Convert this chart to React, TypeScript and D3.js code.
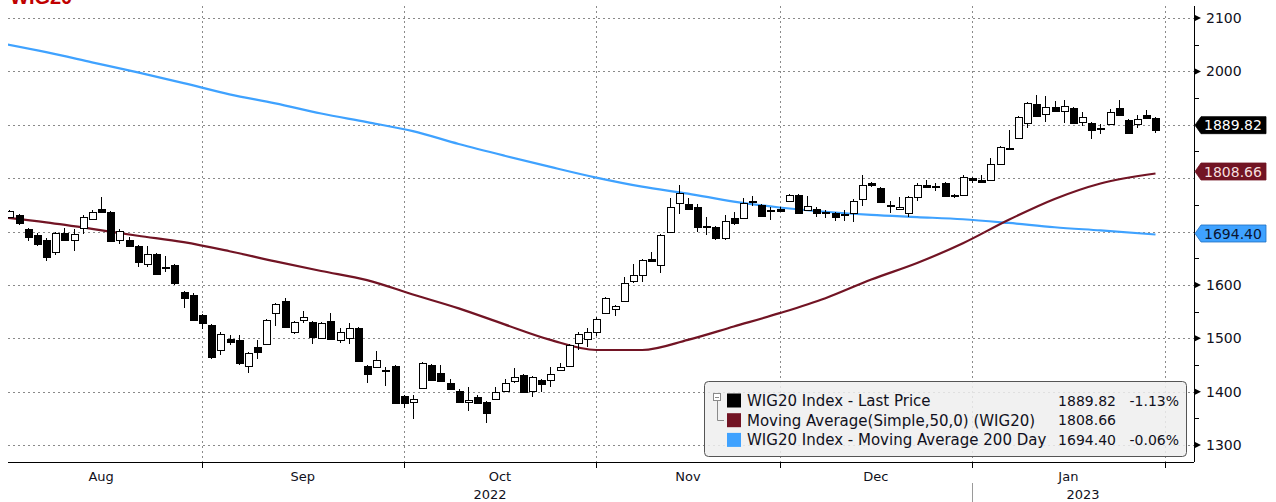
import React from "react";
import * as d3 from "d3";

const W = 1276;
const H = 502;
const PLOT_L = 8;
const PLOT_R = 1194;
const PLOT_T = 6;
const PLOT_B = 462;

// trading-day index of first visible candle (index 0 = 1 Aug 2022)
const FIRST_DAY = 1;

const OPEN = [
  1727, 1731, 1704, 1694, 1685, 1662, 1698, 1685, 1706, 1723,
  1742, 1737, 1685, 1685, 1673, 1639, 1658, 1634, 1637, 1587,
  1581, 1544, 1525, 1478, 1498, 1497, 1448, 1483, 1489, 1547,
  1570, 1512, 1535, 1530, 1500, 1533, 1497, 1500, 1520, 1448,
  1446, 1441, 1448, 1392, 1380, 1406, 1450, 1434, 1416, 1402,
  1380, 1390, 1381, 1386, 1402, 1419, 1431, 1402, 1422, 1422,
  1440, 1448, 1492, 1498, 1511, 1547, 1554, 1570, 1607, 1618,
  1648, 1637, 1700, 1753, 1751, 1746, 1711, 1709, 1687, 1725,
  1726, 1757, 1750, 1741, 1743, 1758, 1768, 1740, 1743, 1737,
  1734, 1733, 1734, 1760, 1790, 1781, 1749, 1742, 1734, 1764,
  1787, 1785, 1790, 1769, 1769, 1800, 1797, 1797, 1826, 1857,
  1875, 1904, 1939, 1921, 1934, 1926, 1931, 1906, 1904, 1893,
  1902, 1931, 1908, 1901, 1919, 1912,
];
const HIGH = [
  1741, 1733, 1706, 1698, 1687, 1700, 1707, 1705, 1730, 1740,
  1765, 1739, 1704, 1690, 1675, 1672, 1660, 1654, 1639, 1589,
  1584, 1546, 1527, 1512, 1506, 1506, 1474, 1497, 1537, 1566,
  1575, 1533, 1551, 1532, 1531, 1548, 1519, 1528, 1522, 1450,
  1477, 1446, 1450, 1394, 1394, 1455, 1452, 1450, 1423, 1404,
  1408, 1393, 1383, 1409, 1423, 1444, 1433, 1430, 1424, 1447,
  1454, 1490, 1512, 1519, 1539, 1578, 1562, 1614, 1639, 1649,
  1662, 1695, 1762, 1787, 1762, 1752, 1728, 1711, 1731, 1737,
  1762, 1767, 1752, 1745, 1745, 1770, 1770, 1767, 1745, 1740,
  1736, 1741, 1760, 1806, 1792, 1783, 1758, 1764, 1766, 1790,
  1797, 1791, 1792, 1771, 1805, 1802, 1806, 1837, 1861, 1890,
  1916, 1942, 1956, 1953, 1945, 1946, 1933, 1923, 1906, 1901,
  1930, 1946, 1910, 1919, 1928, 1914,
];
const LOW = [
  1725, 1713, 1682, 1672, 1645, 1656, 1683, 1664, 1695, 1721,
  1735, 1680, 1676, 1672, 1634, 1634, 1618, 1625, 1600, 1556,
  1532, 1517, 1462, 1468, 1487, 1450, 1435, 1462, 1487, 1523,
  1520, 1508, 1529, 1490, 1498, 1496, 1491, 1489, 1456, 1416,
  1444, 1410, 1377, 1369, 1348, 1404, 1420, 1418, 1403, 1379,
  1364, 1377, 1342, 1384, 1400, 1417, 1398, 1390, 1400, 1408,
  1438, 1446, 1478, 1484, 1505, 1545, 1542, 1568, 1604, 1606,
  1645, 1622, 1698, 1732, 1741, 1700, 1693, 1685, 1685, 1713,
  1724, 1748, 1727, 1722, 1736, 1756, 1732, 1738, 1727, 1726,
  1720, 1719, 1717, 1747, 1784, 1754, 1734, 1740, 1727, 1757,
  1781, 1776, 1765, 1762, 1767, 1791, 1791, 1795, 1824, 1852,
  1873, 1893, 1914, 1905, 1924, 1904, 1902, 1898, 1873, 1883,
  1900, 1916, 1883, 1893, 1910, 1884,
];
const CLOSE = [
  1739, 1715, 1690, 1676, 1653, 1698, 1685, 1695, 1728, 1737,
  1736, 1682, 1701, 1673, 1642, 1658, 1620, 1632, 1603, 1575,
  1534, 1528, 1464, 1508, 1493, 1454, 1472, 1475, 1535, 1564,
  1522, 1531, 1540, 1503, 1529, 1498, 1512, 1520, 1458, 1433,
  1459, 1439, 1379, 1379, 1387, 1453, 1422, 1420, 1405, 1381,
  1384, 1379, 1360, 1400, 1416, 1428, 1400, 1428, 1414, 1433,
  1447, 1487, 1508, 1512, 1537, 1575, 1560, 1603, 1618, 1647,
  1645, 1693, 1746, 1772, 1743, 1709, 1709, 1687, 1720, 1715,
  1754, 1755, 1729, 1739, 1738, 1768, 1734, 1748, 1734, 1735,
  1728, 1732, 1758, 1787, 1788, 1756, 1747, 1746, 1764, 1787,
  1783, 1784, 1767, 1768, 1803, 1797, 1793, 1826, 1858, 1855,
  1914, 1940, 1916, 1933, 1926, 1935, 1904, 1914, 1890, 1892,
  1923, 1918, 1885, 1911, 1912, 1889.82,
];

// moving averages, sampled at trading-day indices
const MA_DAYS = [0, 5, 10, 15, 20, 25, 30, 35, 40, 45, 50, 55, 60, 65, 70, 75, 80, 85, 90, 95, 100, 105, 110, 115, 120, 126];
const MA50 = [1727, 1717, 1705, 1692, 1680, 1663, 1644, 1626, 1609, 1582, 1556, 1526, 1497, 1478, 1478, 1497, 1522, 1547, 1575, 1610, 1641, 1678, 1722, 1761, 1790, 1808.66];
const MA200 = [2053, 2036, 2017, 1998, 1978, 1957, 1940, 1921, 1905, 1888, 1864, 1842, 1821, 1801, 1784, 1771, 1756, 1745, 1737, 1731, 1727, 1723, 1716, 1708, 1702, 1694.4];

const MONTHS = ["Aug", "Sep", "Oct", "Nov", "Dec", "Jan"];
const MONTH_START = [0, 22, 44, 65, 85, 106, 127];
const YEARS = ["2022", "2023"];
const YEAR_BREAK = 106;

const Y_TICKS = [1300, 1400, 1500, 1600, 1700, 1800, 1900, 2000, 2100];
const Y_MINOR = [1350, 1450, 1550, 1650, 1750, 1850, 1950, 2050];

const LEGEND_NAMES = [
  "WIG20 Index - Last Price",
  "Moving Average(Simple,50,0) (WIG20)",
  "WIG20 Index - Moving Average 200 Day",
];
const LEGEND_VALUES = ["1889.82", "1808.66", "1694.40"];
const LEGEND_CHANGES = ["-1.13%", "", "-0.06%"];
const LAST_VALUES = [1889.82, 1808.66, 1694.4];

const COL_PRICE = "#000000";
const COL_MA50 = "#721424";
const COL_MA200 = "#3fa2ff";
const SERIES_COLORS = [COL_PRICE, COL_MA50, COL_MA200];
const LABEL_TEXT = ["#ffffff", "#f6dede", "#0b1630"];
const LABEL_SHIFT = [-5, -2, -1];

const FONT = "'DejaVu Sans', Verdana, sans-serif";

export default function App() {
  const x = d3.scaleLinear().domain([0.84, 130.2]).range([PLOT_L, PLOT_R]);
  const y = d3.scaleLinear().domain([1300, 2100]).range([445, 18]);

  const candles = OPEN.map((o, i) => ({
    day: FIRST_DAY + i,
    o,
    h: HIGH[i],
    l: LOW[i],
    c: CLOSE[i],
  }));

  const maLine = d3
    .line<number>()
    .x((_, i) => x(MA_DAYS[i]))
    .y((v) => y(v))
    .curve(d3.curveMonotoneX);

  const gridColor = "#8a8a8a";
  const labelCenters = LAST_VALUES.map((v, i) => y(v) + LABEL_SHIFT[i]);
  const hiddenTick = (t: number) => labelCenters.some((c) => Math.abs(c - y(t)) < 15);

  return (
    <svg
      width={W}
      height={H}
      viewBox={`0 0 ${W} ${H}`}
      style={{ position: "absolute", left: 0, top: 0, background: "#fff" }}
      fontFamily={FONT}
    >
      <defs>
        <clipPath id="plotClip">
          <rect x={PLOT_L} y={PLOT_T} width={PLOT_R - PLOT_L} height={PLOT_B - PLOT_T} />
        </clipPath>
      </defs>
      <rect x={0} y={0} width={W} height={H} fill="#fff" />

      {/* title, cut by the top edge */}
      <text x={10} y={4} fill="#c00000" fontWeight="bold" fontSize={20} fontFamily="'Liberation Sans', Arial, sans-serif">
        WIG20
      </text>

      {/* horizontal grid */}
      {Y_TICKS.map((t) => (
        <line
          key={`hg${t}`}
          x1={PLOT_L}
          x2={PLOT_R}
          y1={Math.round(y(t)) + 0.5}
          y2={Math.round(y(t)) + 0.5}
          stroke={gridColor}
          strokeDasharray="2,3"
        />
      ))}
      {/* vertical grid at month starts */}
      {MONTH_START.slice(1).map((d) => (
        <line
          key={`vg${d}`}
          x1={Math.round(x(d)) + 0.5}
          x2={Math.round(x(d)) + 0.5}
          y1={PLOT_T}
          y2={PLOT_B}
          stroke={gridColor}
          strokeDasharray="2,3"
        />
      ))}

      <g clipPath="url(#plotClip)">
        {/* moving averages */}
        <path d={maLine(MA200) || ""} fill="none" stroke={COL_MA200} strokeWidth={2.2} />
        <path d={maLine(MA50) || ""} fill="none" stroke={COL_MA50} strokeWidth={2.2} />

        {/* candles */}
        {candles.map((k) => {
          const cx = Math.round(x(k.day));
          const up = k.c >= k.o;
          const yTop = Math.round(y(Math.max(k.o, k.c)));
          const yBot = Math.round(y(Math.min(k.o, k.c)));
          const bh = Math.max(1, yBot - yTop);
          return (
            <g key={k.day}>
              <line
                x1={cx + 0.5}
                x2={cx + 0.5}
                y1={Math.round(y(k.h))}
                y2={Math.round(y(k.l))}
                stroke="#000"
                strokeWidth={1}
              />
              <rect
                x={cx - 2.5}
                y={yTop + 0.5}
                width={7}
                height={bh}
                fill={up ? "#fff" : "#000"}
                stroke="#000"
                strokeWidth={1}
              />
            </g>
          );
        })}
      </g>

      {/* right axis */}
      <line x1={PLOT_R + 0.5} x2={PLOT_R + 0.5} y1={PLOT_T} y2={PLOT_B} stroke="#000" />
      {Y_MINOR.map((t) => (
        <line
          key={`mn${t}`}
          x1={PLOT_R}
          x2={PLOT_R + 5}
          y1={Math.round(y(t)) + 0.5}
          y2={Math.round(y(t)) + 0.5}
          stroke="#000"
        />
      ))}
      {Y_TICKS.filter((t) => !hiddenTick(t)).map((t) => (
        <g key={`yt${t}`}>
          <polygon
            points={`${PLOT_R},${y(t) - 3.5} ${PLOT_R + 7},${y(t)} ${PLOT_R},${y(t) + 3.5}`}
            fill="#000"
          />
          <text x={1206} y={y(t)} dy="0.36em" fontSize={14} fill="#101020">
            {t}
          </text>
        </g>
      ))}

      {/* last value labels */}
      {LAST_VALUES.map((v, i) => {
        const cy = labelCenters[i];
        const hh = 8.5;
        return (
          <g key={`lv${i}`}>
            <polygon
              points={`${PLOT_R + 1},${cy} ${PLOT_R + 7},${cy - hh} 1266,${cy - hh} 1266,${cy + hh} ${PLOT_R + 7},${cy + hh}`}
              fill={SERIES_COLORS[i]}
              stroke={i === 2 ? "#1f6fc0" : SERIES_COLORS[i]}
              strokeWidth={0.8}
            />
            <text x={1204} y={cy} dy="0.36em" fontSize={14} fill={LABEL_TEXT[i]}>
              {LEGEND_VALUES[i]}
            </text>
          </g>
        );
      })}

      {/* bottom axis */}
      <line x1={PLOT_L} x2={PLOT_R} y1={PLOT_B + 0.5} y2={PLOT_B + 0.5} stroke="#000" />
      {MONTH_START.slice(1).map((d) => (
        <line
          key={`bt${d}`}
          x1={Math.round(x(d)) + 0.5}
          x2={Math.round(x(d)) + 0.5}
          y1={PLOT_B}
          y2={PLOT_B + 6}
          stroke="#000"
        />
      ))}
      {MONTHS.map((m, i) => (
        <text
          key={`ml${m}`}
          x={(x(MONTH_START[i]) + x(MONTH_START[i + 1])) / 2}
          y={481}
          textAnchor="middle"
          fontSize={13}
          fill="#101020"
        >
          {m}
        </text>
      ))}
      {YEARS.map((yr, i) => {
        const a = i === 0 ? PLOT_L : x(YEAR_BREAK);
        const b = i === 0 ? x(YEAR_BREAK) : PLOT_R;
        return (
          <text key={yr} x={(a + b) / 2} y={499} textAnchor="middle" fontSize={13} fill="#101020">
            {yr}
          </text>
        );
      })}
      <line
        x1={Math.round(x(YEAR_BREAK)) + 0.5}
        x2={Math.round(x(YEAR_BREAK)) + 0.5}
        y1={483}
        y2={H}
        stroke="#9a9a9a"
      />

      {/* legend */}
      <g>
        <rect x={704.5} y={381.5} width={482} height={75} rx={4} fill="#efefef" fillOpacity={0.85} stroke="#555" />
        <rect x={713.5} y={393.5} width={7} height={7} fill="#fff" stroke="#8a8a8a" />
        <line x1={715} x2={719} y1={397.5} y2={397.5} stroke="#8a8a8a" />
        <polyline points="717.5,401 717.5,420.5 724,420.5" fill="none" stroke="#8a8a8a" />
        {LEGEND_NAMES.map((n, i) => {
          const cy = 400.5 + i * 19.7;
          return (
            <g key={`lg${i}`}>
              <rect x={727} y={cy - 7} width={14} height={14} fill={SERIES_COLORS[i]} />
              <text x={747} y={cy} dy="0.36em" fontSize={15} fill="#101020">
                {n}
              </text>
              <text x={1116} y={cy} dy="0.36em" fontSize={14} fill="#101020" textAnchor="end">
                {LEGEND_VALUES[i]}
              </text>
              <text x={1179} y={cy} dy="0.36em" fontSize={14} fill="#101020" textAnchor="end">
                {LEGEND_CHANGES[i]}
              </text>
            </g>
          );
        })}
      </g>
    </svg>
  );
}
